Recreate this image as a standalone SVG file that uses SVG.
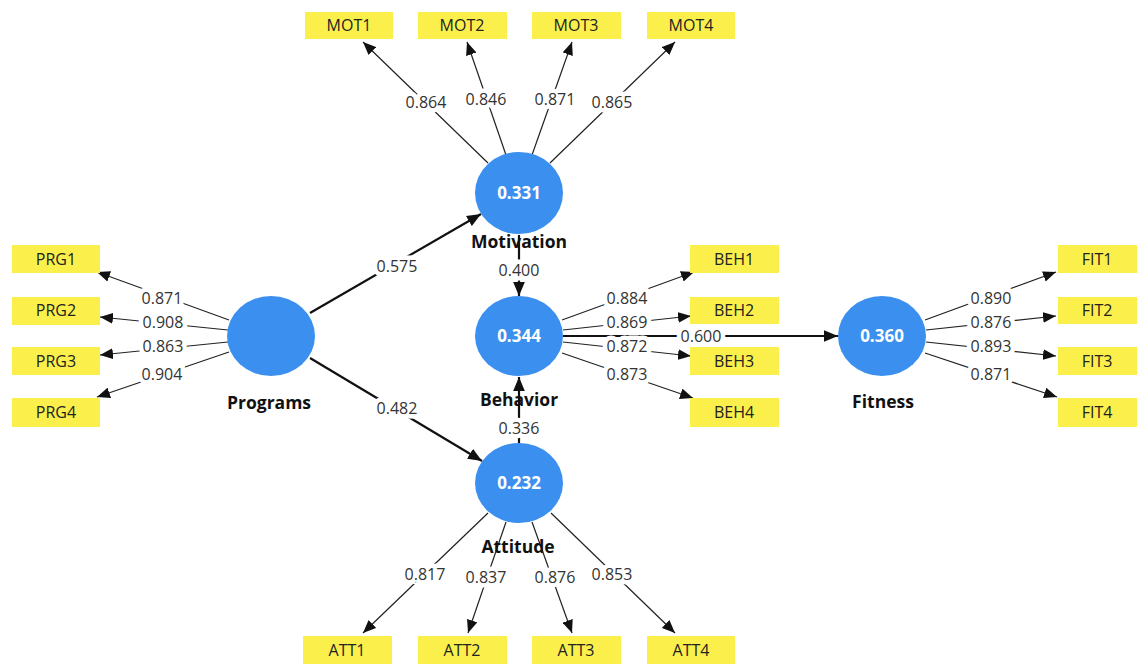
<svg xmlns="http://www.w3.org/2000/svg" width="1137" height="664" viewBox="0 0 1137 664">
<style>
.box{fill:#fbf04b}
.bt{font-family:"Open Sans","Noto Sans",sans-serif;font-size:16px;fill:#222;text-anchor:middle}
.lv{font-family:"Open Sans","Noto Sans",sans-serif;font-size:16px;fill:#333;text-anchor:middle;paint-order:stroke;stroke:#fff;stroke-width:9px;stroke-linejoin:round}
.c{fill:#3b8fef}
.ct{font-family:"Open Sans","Noto Sans",sans-serif;font-size:17px;font-weight:bold;fill:#fff;text-anchor:middle}
.nl{font-family:"Open Sans","Noto Sans",sans-serif;font-size:17.5px;font-weight:bold;fill:#111;text-anchor:middle}
.ld{stroke:#222;stroke-width:1.2;fill:none;marker-end:url(#a)}
.st{stroke:#111;stroke-width:2.2;fill:none;marker-end:url(#b)}
</style>
<defs>
<marker id="a" viewBox="0 0 12 10" refX="12" refY="5" markerWidth="13" markerHeight="11" markerUnits="userSpaceOnUse" orient="auto"><path d="M0,0L12,5L0,10z" fill="#111"/></marker>
<marker id="b" viewBox="0 0 12 10" refX="12" refY="5" markerWidth="14" markerHeight="12" markerUnits="userSpaceOnUse" orient="auto"><path d="M0,0L12,5L0,10z" fill="#111"/></marker>
</defs>
<rect width="1137" height="664" fill="#fff"/>
<g id="connectors">
<line class="ld" x1="488" y1="163" x2="363" y2="42"/>
<line class="ld" x1="506" y1="155" x2="467" y2="42"/>
<line class="ld" x1="532" y1="155" x2="572" y2="42"/>
<line class="ld" x1="550" y1="163" x2="675" y2="42"/>
<line class="ld" x1="229" y1="320" x2="97" y2="272"/>
<line class="ld" x1="228" y1="330" x2="100" y2="317"/>
<line class="ld" x1="228" y1="342" x2="100" y2="355"/>
<line class="ld" x1="229" y1="352" x2="97" y2="397"/>
<line class="ld" x1="562" y1="320" x2="694" y2="272"/>
<line class="ld" x1="563" y1="330" x2="691" y2="316"/>
<line class="ld" x1="563" y1="342" x2="691" y2="356"/>
<line class="ld" x1="562" y1="353" x2="693" y2="398"/>
<line class="ld" x1="925" y1="320" x2="1056" y2="272"/>
<line class="ld" x1="926" y1="330" x2="1056" y2="316"/>
<line class="ld" x1="926" y1="342" x2="1056" y2="356"/>
<line class="ld" x1="925" y1="353" x2="1057" y2="397"/>
<line class="ld" x1="488" y1="513" x2="363" y2="633"/>
<line class="ld" x1="506" y1="522" x2="468" y2="633"/>
<line class="ld" x1="532" y1="522" x2="572" y2="633"/>
<line class="ld" x1="551" y1="513" x2="675" y2="633"/>
<line class="st" x1="310" y1="313" x2="481" y2="214"/>
<line class="st" x1="310" y1="358" x2="482" y2="461"/>
<line class="st" x1="563" y1="336" x2="838" y2="336"/>
</g>
<g id="labels">
<text class="lv" x="426" y="108">0.864</text>
<text class="lv" x="486" y="105">0.846</text>
<text class="lv" x="555" y="105">0.871</text>
<text class="lv" x="612" y="108">0.865</text>
<text class="lv" x="162" y="304">0.871</text>
<text class="lv" x="163" y="328">0.908</text>
<text class="lv" x="163" y="352">0.863</text>
<text class="lv" x="162" y="380">0.904</text>
<text class="lv" x="627" y="304">0.884</text>
<text class="lv" x="627" y="328">0.869</text>
<text class="lv" x="627" y="352">0.872</text>
<text class="lv" x="627" y="380">0.873</text>
<text class="lv" x="701" y="342">0.600</text>
<text class="lv" x="991" y="304">0.890</text>
<text class="lv" x="991" y="328">0.876</text>
<text class="lv" x="991" y="352">0.893</text>
<text class="lv" x="991" y="380">0.871</text>
<text class="lv" x="425" y="580">0.817</text>
<text class="lv" x="486" y="583">0.837</text>
<text class="lv" x="555" y="583">0.876</text>
<text class="lv" x="612" y="580">0.853</text>
<text class="lv" x="397" y="272">0.575</text>
<text class="lv" x="397" y="414">0.482</text>
</g>
<g id="Motivation">
<ellipse class="c" cx="519" cy="193" rx="44" ry="41"/>
<text class="ct" x="519" y="199">0.331</text>
<text class="nl" x="519" y="248">Motivation</text>
</g>
<g id="Programs">
<ellipse class="c" cx="271" cy="336" rx="44" ry="40"/>
<text class="nl" x="269" y="409">Programs</text>
</g>
<g id="Behavior">
<ellipse class="c" cx="519" cy="336" rx="44" ry="40"/>
<text class="ct" x="519" y="342">0.344</text>
<text class="nl" x="519" y="406">Behavior</text>
</g>
<g id="Fitness">
<ellipse class="c" cx="882" cy="336" rx="44" ry="40"/>
<text class="ct" x="882" y="342">0.360</text>
<text class="nl" x="883" y="408">Fitness</text>
</g>
<g id="Attitude">
<ellipse class="c" cx="519" cy="483" rx="44" ry="40"/>
<text class="ct" x="519" y="489">0.232</text>
<text class="nl" x="518" y="553">Attitude</text>
</g>
<g id="structural">
<line class="st" x1="519" y1="235" x2="519" y2="296"/>
<line class="st" x1="519" y1="443" x2="519" y2="377"/>
<text class="lv" x="519" y="276">0.400</text>
<text class="lv" x="519" y="434">0.336</text>
</g>
<g id="MOT1"><rect class="box" x="305" y="12" width="88" height="27"/><text class="bt" x="349" y="31">MOT1</text></g>
<g id="MOT2"><rect class="box" x="418" y="12" width="89" height="27"/><text class="bt" x="462" y="31">MOT2</text></g>
<g id="MOT3"><rect class="box" x="532" y="12" width="89" height="27"/><text class="bt" x="576" y="31">MOT3</text></g>
<g id="MOT4"><rect class="box" x="647" y="12" width="88" height="27"/><text class="bt" x="691" y="31">MOT4</text></g>
<g id="PRG1"><rect class="box" x="12" y="245" width="88" height="28"/><text class="bt" x="56" y="265">PRG1</text></g>
<g id="PRG2"><rect class="box" x="12" y="297" width="88" height="28"/><text class="bt" x="56" y="316">PRG2</text></g>
<g id="PRG3"><rect class="box" x="12" y="347" width="88" height="28"/><text class="bt" x="56" y="367">PRG3</text></g>
<g id="PRG4"><rect class="box" x="12" y="398" width="88" height="29"/><text class="bt" x="56" y="418">PRG4</text></g>
<g id="BEH1"><rect class="box" x="690" y="245" width="89" height="28"/><text class="bt" x="734" y="265">BEH1</text></g>
<g id="BEH2"><rect class="box" x="690" y="297" width="89" height="27"/><text class="bt" x="734" y="316">BEH2</text></g>
<g id="BEH3"><rect class="box" x="690" y="347" width="89" height="28"/><text class="bt" x="734" y="367">BEH3</text></g>
<g id="BEH4"><rect class="box" x="690" y="398" width="89" height="29"/><text class="bt" x="734" y="418">BEH4</text></g>
<g id="FIT1"><rect class="box" x="1058" y="245" width="79" height="28"/><text class="bt" x="1097" y="265">FIT1</text></g>
<g id="FIT2"><rect class="box" x="1058" y="297" width="79" height="27"/><text class="bt" x="1097" y="316">FIT2</text></g>
<g id="FIT3"><rect class="box" x="1058" y="347" width="79" height="28"/><text class="bt" x="1097" y="367">FIT3</text></g>
<g id="FIT4"><rect class="box" x="1058" y="398" width="79" height="29"/><text class="bt" x="1097" y="418">FIT4</text></g>
<g id="ATT1"><rect class="box" x="303" y="636" width="89" height="28"/><text class="bt" x="347" y="656">ATT1</text></g>
<g id="ATT2"><rect class="box" x="418" y="636" width="89" height="28"/><text class="bt" x="462" y="656">ATT2</text></g>
<g id="ATT3"><rect class="box" x="532" y="636" width="89" height="28"/><text class="bt" x="576" y="656">ATT3</text></g>
<g id="ATT4"><rect class="box" x="647" y="636" width="88" height="28"/><text class="bt" x="691" y="656">ATT4</text></g>
</svg>
